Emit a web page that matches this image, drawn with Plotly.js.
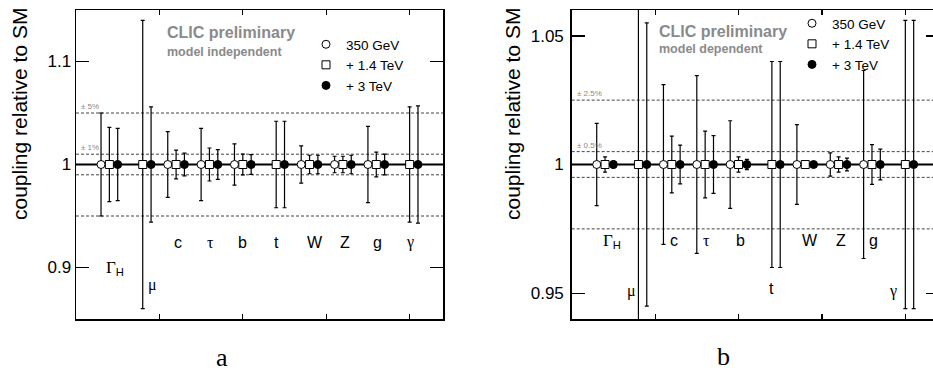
<!DOCTYPE html>
<html>
<head>
<meta charset="utf-8">
<script src="https://cdn.plot.ly/plotly-3.0.1.min.js"></script>
<style>
html,body{margin:0;padding:0;overflow:hidden;background:#fff;}
#chart{width:945px;height:370px;}
</style>
</head>
<body>
<div id="chart"></div>
<script>
// ---------------- data ----------------
const categories = ['Γ_H', 'μ', 'c', 'τ', 'b', 't', 'W', 'Z', 'g', 'γ'];
const energies = ['350 GeV', '+ 1.4 TeV', '+ 3 TeV'];
const centralValue = [1, 1, 1, 1, 1, 1, 1, 1, 1, 1];

// panel a: model independent (relative uncertainties)
const errA_350 = [0.050, null, 0.032, 0.035, 0.020, null, 0.018, 0.008, 0.037, null];
const errA_1400 = [0.036, 0.140, 0.014, 0.016, 0.010, 0.042, 0.009, 0.008, 0.012, 0.056];
const errA_3000 = [0.035, 0.056, 0.011, 0.0145, 0.0095, 0.042, 0.009, 0.009, 0.010, 0.057];

// panel b: model dependent (relative uncertainties)
const errB_350 = [0.016, null, 0.031, 0.0345, 0.017, null, 0.0155, 0.0045, 0.0365, null];
const errB_1400 = [0.003, 0.080, 0.011, 0.013, 0.003, 0.040, 0.0005, 0.003, 0.0077, 0.056];
const errB_3000 = [0.0013, 0.055, 0.0075, 0.0112, 0.002, 0.040, 0.0004, 0.0025, 0.006, 0.056];

const bandsA = [0.05, 0.01];     // ±5%, ±1%
const bandsB = [0.025, 0.005];   // ±2.5%, ±0.5%
const yTicksA = [0.9, 1, 1.1];
const yTicksB = [0.95, 1, 1.05];

// ---------------- layout helpers ----------------
const W = 945, H = 370;
const px = v => v / W;
const py = v => (H - v) / H;
const offsets = [-0.25, 0, 0.25];
const symbols = [
  {symbol: 'circle', color: '#ffffff'},
  {symbol: 'square', color: '#ffffff'},
  {symbol: 'circle', color: '#000000'}
];
const FONT = 'Liberation Sans, Arial, sans-serif';
const SERIF = 'Liberation Serif, Times New Roman, serif';

function makeTraces(errs, xa, ya, legendId) {
  return errs.map((err, k) => {
    const xs = [], ys = [], es = [];
    err.forEach((e, i) => {
      if (e === null) return;
      xs.push(i + 1 + offsets[k]);
      ys.push(centralValue[i]);
      es.push(e);
    });
    return {
      type: 'scatter', mode: 'markers', name: energies[k],
      x: xs, y: ys, xaxis: xa, yaxis: ya, legend: legendId,
      marker: {symbol: symbols[k].symbol, size: 8, color: symbols[k].color,
               line: {color: '#000', width: 1}},
      error_y: {type: 'data', array: es, visible: true, color: '#000',
                thickness: 1.2, width: 2},
      cliponaxis: true,
      hoverinfo: 'skip'
    };
  });
}

const traces = [
  ...makeTraces([errA_350, errA_1400, errA_3000], 'x', 'y', 'legend'),
  ...makeTraces([errB_350, errB_1400, errB_3000], 'x2', 'y2', 'legend2')
];

function bandShapes(bands, xr, yr) {
  const s = [];
  bands.forEach(b => {
    [1 + b, 1 - b].forEach(v => s.push({
      type: 'line', xref: xr + ' domain', yref: yr, x0: 0, x1: 1, y0: v, y1: v,
      line: {color: '#444', width: 1, dash: '3px,2px'}, layer: 'below'
    }));
  });
  s.push({type: 'line', xref: xr + ' domain', yref: yr, x0: 0, x1: 1, y0: 1, y1: 1,
          line: {color: '#000', width: 2}, layer: 'below'});
  return s;
}

function labelText(c) {
  if (c === 'Γ_H') return '<span style="font-family:Liberation Serif;font-size:17px">Γ</span><sub>H</sub>';
  return c;
}
function isGreek(c) { return ['μ', 'τ', 'γ'].includes(c); }

// label positions (x in category units, y in coupling units)
const labPosA = [[1.17, 0.900], [2.28, 0.8835], [3.06, 0.9246], [4.02, 0.9246], [5.0, 0.9246],
                 [6.02, 0.9246], [7.16, 0.9246], [8.06, 0.9246], [9.05, 0.9246], [10.0, 0.9246]];
const labPosB = [[1.20, 0.9703], [1.78, 0.951], [3.07, 0.9703], [4.03, 0.9703], [5.05, 0.9703],
                 [6.0, 0.952], [7.15, 0.9703], [8.08, 0.9703], [9.06, 0.9703], [9.64, 0.951]];

function catAnnotations(pos, xr, yr) {
  return categories.map((c, i) => ({
    xref: xr, yref: yr, x: pos[i][0], y: pos[i][1], text: labelText(c), showarrow: false,
    font: {family: isGreek(c) ? SERIF : FONT, size: 16, color: '#000000'},
    xanchor: 'center', yanchor: 'middle'
  }));
}

function bandLabels(bands, xr, yr) {
  return bands.map(b => ({
    xref: xr + ' domain', yref: yr, x: 0.008, y: 1 + b, yanchor: 'bottom', xanchor: 'left',
    text: '± ' + (b * 100) + '%', showarrow: false, yshift: 0,
    font: {family: FONT, size: 8, color: '#888'}
  }));
}

const annotations = [
  ...catAnnotations(labPosA, 'x', 'y'),
  ...catAnnotations(labPosB, 'x2', 'y2'),
  ...bandLabels(bandsA, 'x', 'y'),
  ...bandLabels(bandsB, 'x2', 'y2'),
  {xref: 'paper', yref: 'paper', x: px(165), y: py(33), xanchor: 'left', yanchor: 'middle',
   text: '<b>CLIC preliminary</b>', showarrow: false, font: {family: FONT, size: 16, color: '#8a8a8a'}},
  {xref: 'paper', yref: 'paper', x: px(165), y: py(52), xanchor: 'left', yanchor: 'middle',
   text: '<b>model independent</b>', showarrow: false, font: {family: FONT, size: 12.5, color: '#8a8a8a'}},
  {xref: 'paper', yref: 'paper', x: px(657), y: py(31), xanchor: 'left', yanchor: 'middle',
   text: '<b>CLIC preliminary</b>', showarrow: false, font: {family: FONT, size: 16, color: '#8a8a8a'}},
  {xref: 'paper', yref: 'paper', x: px(657), y: py(49), xanchor: 'left', yanchor: 'middle',
   text: '<b>model dependent</b>', showarrow: false, font: {family: FONT, size: 12.5, color: '#8a8a8a'}},
  {xref: 'paper', yref: 'paper', x: px(20), y: py(6), xanchor: 'center', yanchor: 'top',
   text: 'coupling relative to SM', textangle: -90, showarrow: false,
   font: {family: FONT, size: 21, color: '#000'}},
  {xref: 'paper', yref: 'paper', x: px(513), y: py(6), xanchor: 'center', yanchor: 'top',
   text: 'coupling relative to SM', textangle: -90, showarrow: false,
   font: {family: FONT, size: 21, color: '#000'}},
  {xref: 'paper', yref: 'paper', x: px(222), y: py(357), xanchor: 'center', yanchor: 'middle',
   height: 22, text: 'a', showarrow: false, font: {family: SERIF, size: 26, color: '#000'}},
  {xref: 'paper', yref: 'paper', x: px(723), y: py(356), xanchor: 'center', yanchor: 'middle',
   height: 22, text: 'b', showarrow: false, font: {family: SERIF, size: 26, color: '#000'}}
];

function xAxis(domain, anchor) {
  return {domain: domain, anchor: anchor, range: [0, 11], showgrid: false, zeroline: false,
          showline: true, linecolor: '#000', linewidth: 1.5, mirror: 'ticks',
          ticks: 'inside', ticklen: 5, tickwidth: 1.2, tickcolor: '#000',
          tickmode: 'array', tickvals: [2.5, 5, 7.5, 10], showticklabels: false, fixedrange: true};
}
function yAxis(range, tickvals, anchor, standoff) {
  return {domain: [py(319), py(10)], anchor: anchor, range: range, showgrid: false, zeroline: false,
          showline: true, linecolor: '#000', linewidth: 1.5, mirror: 'ticks',
          ticks: 'inside', ticklen: 13, tickwidth: 1.5, tickcolor: '#000',
          tickmode: 'array', tickvals: tickvals, ticktext: tickvals.map(String),
          ticklabelstandoff: standoff,
          tickfont: {family: FONT, size: 17, color: '#000'}, fixedrange: true};
}

const layout = {
  width: W, height: H,
  margin: {l: 0, r: 0, t: 0, b: 0},
  paper_bgcolor: '#fff', plot_bgcolor: '#fff',
  showlegend: true,
  xaxis: xAxis([px(76), px(443)], 'y'),
  yaxis: yAxis([0.85, 1.15], yTicksA, 'x', 0),
  xaxis2: xAxis([px(571.7), px(938.7)], 'y2'),
  yaxis2: yAxis([0.94, 1.06], yTicksB, 'x2', 3),
  legend: {x: px(306), y: py(29), xanchor: 'left', yanchor: 'top', bgcolor: 'rgba(0,0,0,0)',
           font: {family: FONT, size: 13.5, color: '#000'}, itemwidth: 30, tracegroupgap: 0},
  legend2: {x: px(792), y: py(8), xanchor: 'left', yanchor: 'top', bgcolor: 'rgba(0,0,0,0)',
            font: {family: FONT, size: 13.5, color: '#000'}, itemwidth: 30, tracegroupgap: 0},
  shapes: [...bandShapes(bandsA, 'x', 'y'), ...bandShapes(bandsB, 'x2', 'y2')],
  annotations: annotations
};

Plotly.newPlot('chart', traces, layout, {staticPlot: true, displayModeBar: false});
</script>
</body>
</html>
